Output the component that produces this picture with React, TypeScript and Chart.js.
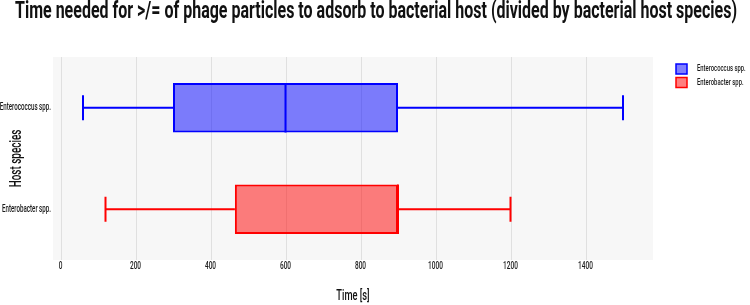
import React, { useEffect, useRef } from "react";
import { Chart, registerables } from "chart.js";

Chart.register(...registerables);

const TITLE = "Time needed for >/= of phage particles to adsorb to bacterial host (divided by bacterial host species)";
const X_TITLE = "Time [s]";
const Y_TITLE = "Host species";
const categories = ["Enterococcus spp.", "Enterobacter spp."];
const seriesNames = ["Enterococcus spp.", "Enterobacter spp."];
const mins = [60, 120];
const q1s = [300, 465];
const medians = [600, 900];
const q3s = [900, 900];
const maxs = [1500, 1200];
const xTicks = [0, 200, 400, 600, 800, 1000, 1200, 1400];
const strokeColors = ["rgb(0,0,255)", "rgb(255,0,0)"];
const fillColors = ["rgba(0,0,255,0.5)", "rgba(255,0,0,0.5)"];

const FONT = "Roboto, 'DejaVu Sans', sans-serif";
const SQUEEZE = 0.62;

function drawCondensed(ctx: CanvasRenderingContext2D, text: string, x: number, y: number, font: string, squeeze: number, align: CanvasTextAlign, rotate = 0) {
  ctx.save();
  ctx.font = font;
  ctx.textAlign = align;
  ctx.textBaseline = "middle";
  ctx.translate(x, y);
  if (rotate) ctx.rotate(rotate);
  ctx.scale(squeeze, 1);
  ctx.fillText(text, 0, 0);
  ctx.restore();
}

const boxPlugin = {
  id: "boxWhiskers",
  beforeDatasetsDraw(chart: any) {
    const { ctx, chartArea } = chart;
    ctx.save();
    ctx.fillStyle = "#f7f7f7";
    ctx.fillRect(chartArea.left, chartArea.top, chartArea.right - chartArea.left, chartArea.bottom - chartArea.top);
    const xs = chart.scales.x;
    ctx.strokeStyle = "#e0e0e0";
    ctx.lineWidth = 1;
    xTicks.forEach((t) => {
      const px = Math.round(xs.getPixelForValue(t)) + 0.5;
      ctx.beginPath();
      ctx.moveTo(px, chartArea.top);
      ctx.lineTo(px, chartArea.bottom);
      ctx.stroke();
    });
    ctx.restore();
  },
  afterDatasetsDraw(chart: any) {
    const { ctx } = chart;
    const xs = chart.scales.x;
    const ys = chart.scales.y;
    ctx.save();
    categories.forEach((_, i) => {
      const meta = chart.getDatasetMeta(i);
      const bar = meta.data[i];
      if (!bar) return;
      const cy = ys.getPixelForValue(i);
      const h = bar.height;
      const cap = h / 4;
      ctx.strokeStyle = strokeColors[i];
      ctx.lineWidth = 2;
      const pMin = xs.getPixelForValue(mins[i]);
      const pQ1 = xs.getPixelForValue(q1s[i]);
      const pQ3 = xs.getPixelForValue(q3s[i]);
      const pMax = xs.getPixelForValue(maxs[i]);
      const pMed = xs.getPixelForValue(medians[i]);
      ctx.beginPath();
      ctx.moveTo(pMin, cy);
      ctx.lineTo(pQ1, cy);
      ctx.moveTo(pQ3, cy);
      ctx.lineTo(pMax, cy);
      ctx.moveTo(pMin, cy - cap);
      ctx.lineTo(pMin, cy + cap);
      ctx.moveTo(pMax, cy - cap);
      ctx.lineTo(pMax, cy + cap);
      ctx.moveTo(pMed, cy - h / 2);
      ctx.lineTo(pMed, cy + h / 2);
      ctx.stroke();
    });
    ctx.restore();
  },
  afterDraw(chart: any) {
    const { ctx, chartArea } = chart;
    const xs = chart.scales.x;
    const ys = chart.scales.y;
    ctx.save();
    ctx.fillStyle = "#111";
    const titleFont = `bold 23px ${FONT}`;
    ctx.font = titleFont;
    const tw = ctx.measureText(TITLE).width;
    drawCondensed(ctx, TITLE, 376, 12, titleFont, 722 / tw, "center");
    ctx.fillStyle = "#1a1a1a";
    xTicks.forEach((t) => {
      drawCondensed(ctx, String(t), xs.getPixelForValue(t), 266, `500 10.5px ${FONT}`, SQUEEZE, "center");
    });
    categories.forEach((c, i) => {
      drawCondensed(ctx, c, chartArea.left - 2, ys.getPixelForValue(i), `500 10px ${FONT}`, SQUEEZE, "right");
    });
    ctx.fillStyle = "#111";
    drawCondensed(ctx, X_TITLE, (chartArea.left + chartArea.right) / 2, 296, `500 15px ${FONT}`, SQUEEZE, "center");
    drawCondensed(ctx, Y_TITLE, 17, (chartArea.top + chartArea.bottom) / 2, `500 16px ${FONT}`, SQUEEZE, "center", -Math.PI / 2);
    seriesNames.forEach((name, i) => {
      const y = 64 + i * 13.5;
      ctx.fillStyle = fillColors[i];
      ctx.fillRect(676, y, 11, 10);
      ctx.strokeStyle = strokeColors[i];
      ctx.lineWidth = 1.5;
      ctx.strokeRect(676, y, 11, 10);
      ctx.fillStyle = "#1a1a1a";
      drawCondensed(ctx, name, 697, y + 5, `500 9.5px ${FONT}`, SQUEEZE, "left");
    });
    ctx.restore();
  },
};

export default function App() {
  const ref = useRef<HTMLCanvasElement>(null);
  useEffect(() => {
    document.body.style.margin = "0";
    const datasets = seriesNames.map((name, i) => ({
      label: name,
      data: categories.map((_, j) => (j === i ? [q1s[i], q3s[i]] : null)),
      backgroundColor: fillColors[i],
      borderColor: strokeColors[i],
      borderWidth: 2,
      borderSkipped: false,
      grouped: false,
      barPercentage: 0.49,
      categoryPercentage: 1,
    }));
    const chart = new Chart(ref.current!, {
      type: "bar",
      data: { labels: categories, datasets: datasets as any },
      plugins: [boxPlugin],
      options: {
        indexAxis: "y",
        animation: false,
        responsive: false,
        layout: { padding: { left: 0, top: 57, right: 97, bottom: 0 } },
        plugins: {
          legend: { display: false },
          title: { display: false },
          tooltip: { enabled: false },
        },
        scales: {
          x: {
            type: "linear",
            min: -20,
            max: 1580,
            afterBuildTicks: (scale: any) => {
              scale.ticks = xTicks.map((v) => ({ value: v }));
            },
            afterFit: (scale: any) => {
              scale.height = 45;
            },
            grid: { display: false },
            border: { display: false },
            ticks: { display: false },
          },
          y: {
            type: "category",
            afterFit: (scale: any) => {
              scale.width = 53;
            },
            grid: { display: false },
            border: { display: false },
            ticks: { display: false },
          },
        },
      },
    });
    return () => chart.destroy();
  }, []);
  return <canvas ref={ref} width={750} height={305} style={{ display: "block", width: 750, height: 305 }} />;
}
